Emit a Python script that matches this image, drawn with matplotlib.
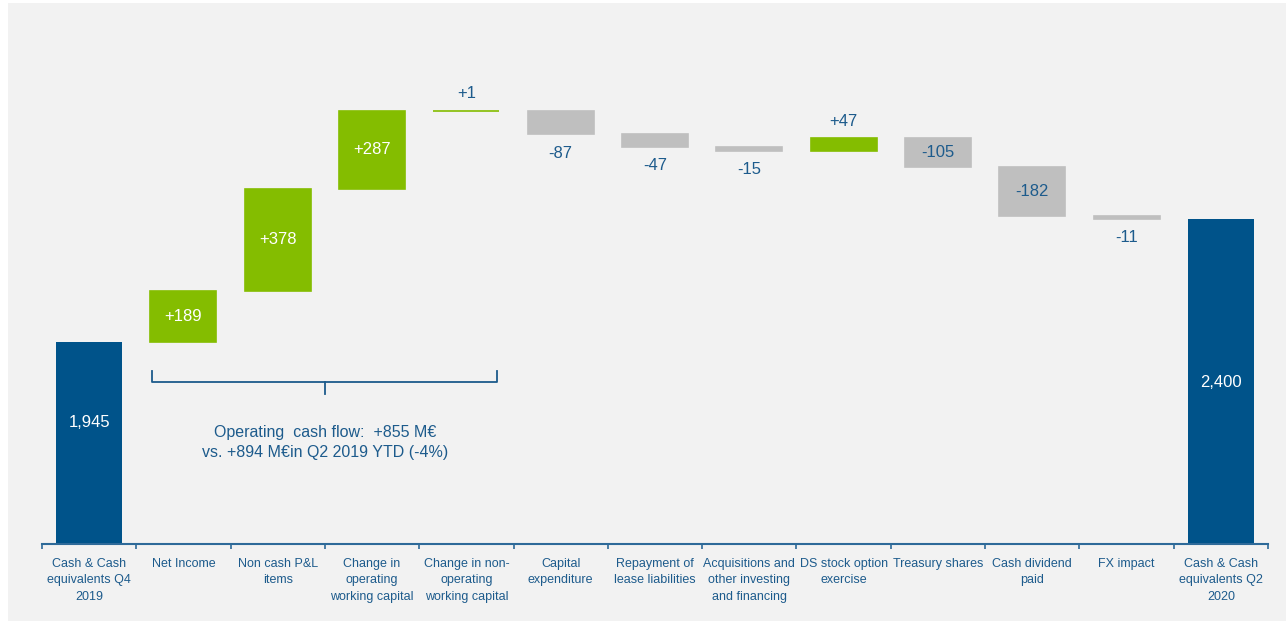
import matplotlib
matplotlib.use("Agg")
import matplotlib.pyplot as plt
from matplotlib import font_manager as fm
import numpy as np
from matplotlib.patches import Rectangle

# prefer a narrow sans if the system has one, otherwise shrink the regular one
installed = {f.name for f in fm.fontManager.ttflist}
if "Liberation Sans Narrow" in installed:
    plt.rcParams['font.family'] = ['Liberation Sans Narrow', 'DejaVu Sans']
    FS_TICK, FS_VAL, FS_NOTE = 11, 13.5, 13.5
else:
    plt.rcParams['font.family'] = ['Liberation Sans', 'DejaVu Sans']
    FS_TICK, FS_VAL, FS_NOTE = 9, 12, 11.5

# cash bridge, M€
categories = [
    "Cash & Cash\nequivalents Q4\n2019", "Net Income", "Non cash P&L\nitems",
    "Change in\noperating\nworking capital", "Change in non-\noperating\nworking capital",
    "Capital\nexpenditure", "Repayment of\nlease liabilities",
    "Acquisitions and\nother investing\nand financing", "DS stock option\nexercise",
    "Treasury shares", "Cash dividend\npaid", "FX impact",
    "Cash & Cash\nequivalents Q2\n2020",
]
start_cash = 1945
end_cash = 2400
deltas = [189, 378, 287, 1, -87, -47, -15, 47, -105, -182, -11]
# where each delta label sits relative to its bar
label_pos = ["in", "in", "in", "above", "below", "below", "below",
             "above", "in", "in", "below"]
ocf_text = "Operating  cash flow:  +855 M€\nvs. +894 M€in Q2 2019 YTD (-4%)"

BLUE = "#00538a"
GREEN = "#84bd00"
GREY = "#bfbfbf"
TXT = "#1d5b8c"
AXC = "#2e6a99"
BG = "#f2f2f2"

W, H = 1286, 621
fig = plt.figure(figsize=(W / 100, H / 100), dpi=100)
fig.patch.set_facecolor("white")
fig.add_artist(Rectangle((8 / W, 0), 1 - 8 / W, 1 - 3 / H, transform=fig.transFigure,
                         facecolor=BG, edgecolor="none", zorder=-10))

ax = fig.add_axes([42 / W, (H - 544) / H, (1268 - 42) / W, (544 - 30) / H])
ax.set_facecolor("none")

n = len(categories)
x = np.arange(n)
w = 0.7

# totals
ax.bar([0, n - 1], [start_cash, end_cash], width=w, color=BLUE, zorder=2)

# floating steps
cum = start_cash
for i, d in enumerate(deltas, start=1):
    bottom = cum if d > 0 else cum + d
    col = GREEN if d > 0 else GREY
    ax.bar(i, abs(d), bottom=bottom, width=w, color=col, edgecolor=col,
           linewidth=1.2, zorder=2)
    lbl = f"{d:+d}"
    pos = label_pos[i - 1]
    if pos == "in":
        c = "white" if d > 0 else TXT
        ax.text(i, bottom + abs(d) / 2, lbl, ha="center", va="center",
                color=c, fontsize=FS_VAL)
    elif pos == "above":
        ax.annotate(lbl, (i, bottom + abs(d)), xytext=(0, 12.5), textcoords="offset points",
                    ha="center", va="center", color=TXT, fontsize=FS_VAL)
    else:
        ax.annotate(lbl, (i, bottom), xytext=(0, -13.5), textcoords="offset points",
                    ha="center", va="center", color=TXT, fontsize=FS_VAL)
    cum += d

# labels inside the total bars
ax.annotate(f"{start_cash:,}", (0, start_cash), xytext=(0, -58), textcoords="offset points",
            ha="center", va="center", color="white", fontsize=FS_VAL)
ax.annotate(f"{end_cash:,}", (n - 1, end_cash), xytext=(0, -118), textcoords="offset points",
            ha="center", va="center", color="white", fontsize=FS_VAL)

ax.set_xlim(-0.5, n - 0.5)
ax.set_ylim(1198, 3099)

# bracket under the operating items
bx0, bx1, bxm = 0.666, 4.325, 2.5
ytop, ymid, ybot = 1838, 1797, 1753
ax.plot([bx0, bx0, bx1, bx1], [ytop, ymid, ymid, ytop], color=TXT, lw=1.3,
        solid_joinstyle="round", zorder=3)
ax.plot([bxm, bxm], [ymid, ybot], color=TXT, lw=1.3, zorder=3)
ax.text(bxm, 1574, ocf_text, ha="center", va="center", color=TXT, fontsize=FS_NOTE,
        linespacing=1.38)

for s in ["top", "left", "right"]:
    ax.spines[s].set_visible(False)
ax.spines["bottom"].set_color(AXC)
ax.spines["bottom"].set_linewidth(1.5)
ax.set_yticks([])
ax.set_xticks(x)
ax.set_xticklabels(categories, fontsize=FS_TICK, color=TXT, linespacing=1.5)
ax.tick_params(axis="x", which="major", length=0, pad=10)
ax.set_xticks(np.arange(-0.5, n), minor=True)
ax.tick_params(axis="x", which="minor", length=3.5, width=1.2, color=AXC,
               direction="out")

fig.savefig("out.png", dpi=100, facecolor=fig.get_facecolor())
